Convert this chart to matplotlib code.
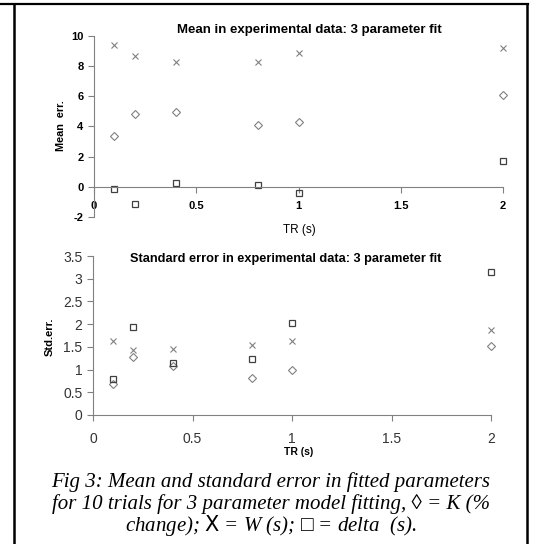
import matplotlib
matplotlib.use("Agg")
from matplotlib import pyplot as plt
from matplotlib.lines import Line2D

# TR values (s)
tr = [0.1, 0.2, 0.4, 0.8, 1.0, 2.0]

# mean error
mean_w = [9.41, 8.70, 8.26, 8.30, 8.85, 9.23]
mean_k = [3.37, 4.82, 4.96, 4.07, 4.30, 6.12]
mean_delta = [-0.15, -1.17, 0.26, 0.11, -0.42, 1.70]

# standard error
std_w = [1.63, 1.42, 1.45, 1.53, 1.62, 1.88]
std_k = [0.68, 1.28, 1.07, 0.82, 1.00, 1.52]
std_delta = [0.79, 1.93, 1.15, 1.23, 2.02, 3.15]

W, H = 535, 544
fig = plt.figure(figsize=(W / 100, H / 100), dpi=100)
plt.rcParams['font.family'] = ['Liberation Sans', 'DejaVu Sans']
plt.rcParams['axes.unicode_minus'] = False

def fx(px):
    return px / W

def fy(py):
    return 1 - py / H

grey = '#808080'
dark = '#404040'

def draw_points(ax, k, w, d):
    ax.plot(tr, w, linestyle='none', marker='x', markersize=4.2, color=grey, mew=0.8, clip_on=False)
    ax.plot(tr, k, linestyle='none', marker='D', markersize=4.2, mfc='none', mec=grey, mew=0.8,
            clip_on=False)
    ax.plot(tr, d, linestyle='none', marker='s', markersize=4.3, mfc='none', mec=dark, mew=0.9,
            clip_on=False)

# top chart
ax1 = fig.add_axes([fx(94), fy(217), fx(503) - fx(94), fy(36) - fy(217)])
draw_points(ax1, mean_k, mean_w, mean_delta)
ax1.set_xlim(0, 2)
ax1.set_ylim(-2, 10)
ax1.set_yticks([-2, 0, 2, 4, 6, 8, 10])
ax1.set_yticklabels(['-2', '0', '2', '4', '6', '8', '10'])
ax1.set_xticks([0, 0.5, 1, 1.5, 2])
ax1.set_xticklabels(['0', '0.5', '1', '1.5', '2'])
ax1.spines['top'].set_visible(False)
ax1.spines['right'].set_visible(False)
ax1.spines['bottom'].set_position(('data', 0))
for s in ['left', 'bottom']:
    ax1.spines[s].set_color(grey)
ax1.tick_params(axis='both', colors=grey, length=4, width=0.8)
ax1.tick_params(axis='x', pad=6)
for lab in ax1.get_xticklabels() + ax1.get_yticklabels():
    lab.set_fontsize(8)
    lab.set_fontweight('bold')
    lab.set_color('black')
fig.text(fx(309), fy(30), 'Mean in experimental data: 3 parameter fit', ha='center', va='center',
         fontsize=9.5, fontweight='bold')
fig.text(fx(61), fy(126), 'Mean  err.', rotation=90, ha='center', va='center', fontsize=7.8,
         fontweight='bold')
fig.text(fx(299), fy(230), 'TR (s)', ha='center', va='center', fontsize=8.5)

# bottom chart
ax2 = fig.add_axes([fx(93), fy(415), fx(491) - fx(93), fy(256) - fy(415)])
draw_points(ax2, std_k, std_w, std_delta)
ax2.set_xlim(0, 2)
ax2.set_ylim(0, 3.5)
ax2.set_yticks([0, 0.5, 1, 1.5, 2, 2.5, 3, 3.5])
ax2.set_yticklabels(['0', '0.5', '1', '1.5', '2', '2.5', '3', '3.5'])
ax2.set_xticks([0, 0.5, 1, 1.5, 2])
ax2.set_xticklabels(['0', '0.5', '1', '1.5', '2'])
ax2.spines['top'].set_visible(False)
ax2.spines['right'].set_visible(False)
for s in ['left', 'bottom']:
    ax2.spines[s].set_color(grey)
ax2.tick_params(axis='both', colors=grey, length=4, width=0.8, labelsize=10, labelcolor='#333333')
ax2.tick_params(axis='x', pad=8)
fig.text(fx(286), fy(259), 'Standard error in experimental data: 3 parameter fit', ha='center',
         va='center', fontsize=9.2, fontweight='bold')
fig.text(fx(50), fy(337), 'Std.err.', rotation=90, ha='center', va='center', fontsize=8,
         fontweight='bold')
fig.text(fx(299), fy(452), 'TR (s)', ha='center', va='center', fontsize=7.5, fontweight='bold')

# caption
cap = dict(ha='center', va='baseline', fontsize=15, style='italic',
           family=['Liberation Serif', 'DejaVu Serif'])
fig.text(fx(271), fy(487), 'Fig 3: Mean and standard error in fitted parameters', **cap)
fig.text(fx(271), fy(509), 'for 10 trials for 3 parameter model fitting, \u25ca = K (%', **cap)
fig.text(fx(271), fy(531), 'change); $\\mathsf{X}$ = W (s); \u25a1 = delta  (s).', **cap)

# frame
fig.add_artist(Line2D([fx(0), fx(528)], [fy(4), fy(4)], color='black', lw=1.6))
fig.add_artist(Line2D([fx(14), fx(14)], [fy(4), fy(544)], color='black', lw=1.8))
fig.add_artist(Line2D([fx(527), fx(527)], [fy(4), fy(544)], color='black', lw=1.8))

fig.savefig('out.png', dpi=100)
